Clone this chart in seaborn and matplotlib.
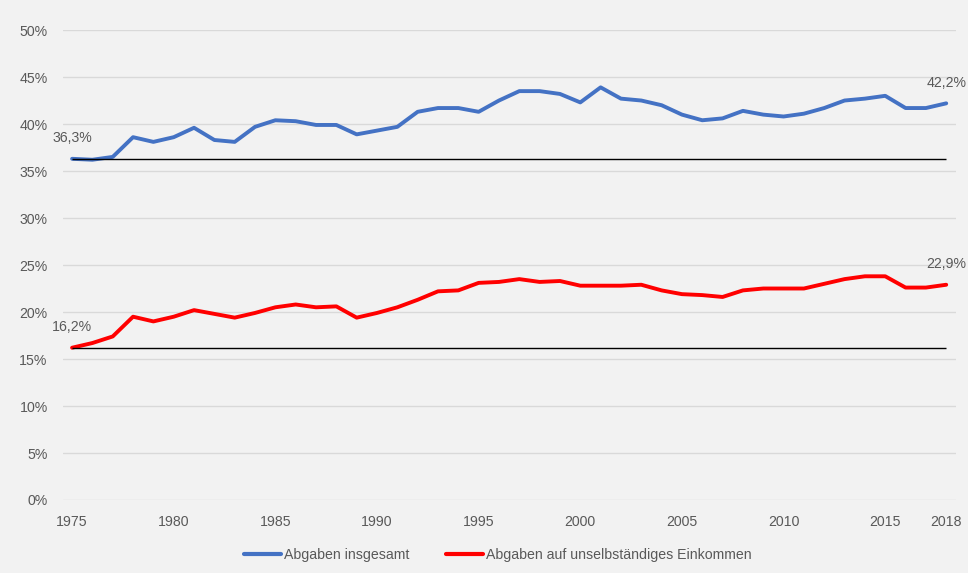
import matplotlib as mpl
from matplotlib import pyplot as plt
import pandas as pd
import seaborn as sns

years = list(range(1975, 2019))

# Abgabenquote in %
total = [
    36.3, 36.2, 36.5, 38.6, 38.1, 38.6, 39.6, 38.3, 38.1, 39.7,
    40.4, 40.3, 39.9, 39.9, 38.9, 39.3, 39.7, 41.3, 41.7, 41.7,
    41.3, 42.5, 43.5, 43.5, 43.2, 42.3, 43.9, 42.7, 42.5, 42.0,
    41.0, 40.4, 40.6, 41.4, 41.0, 40.8, 41.1, 41.7, 42.5, 42.7,
    43.0, 41.7, 41.7, 42.2,
]
wages = [
    16.2, 16.7, 17.4, 19.5, 19.0, 19.5, 20.2, 19.8, 19.4, 19.9,
    20.5, 20.8, 20.5, 20.6, 19.4, 19.9, 20.5, 21.3, 22.2, 22.3,
    23.1, 23.2, 23.5, 23.2, 23.3, 22.8, 22.8, 22.8, 22.9, 22.3,
    21.9, 21.8, 21.6, 22.3, 22.5, 22.5, 22.5, 23.0, 23.5, 23.8,
    23.8, 22.6, 22.6, 22.9,
]
series_names = ["Abgaben insgesamt", "Abgaben auf unselbständiges Einkommen"]
series_colors = ["#4472C4", "#FF0000"]
xtick_years = [1975, 1980, 1985, 1990, 1995, 2000, 2005, 2010, 2015, 2018]

df = pd.DataFrame({
    "Jahr": years * 2,
    "Wert": total + wages,
    "Reihe": [series_names[0]] * len(years) + [series_names[1]] * len(years),
})

sns.set_style("white")
plt.rcParams["font.family"] = ["Liberation Sans", "DejaVu Sans"]
bg = "#f2f2f2"
grey_text = "#595959"
fs = 10.2

fig = plt.figure(figsize=(9.68, 5.73), dpi=100, facecolor=bg)
ax = fig.add_axes([0.065, 0.1274, 0.923, 0.8202])
ax.set_facecolor(bg)

# reference lines at the 1975 level
for vals in (total, wages):
    ax.hlines(vals[0], years[0], years[-1], color="black", linewidth=1.0, zorder=3)

sns.lineplot(
    data=df,
    x="Jahr",
    y="Wert",
    hue="Reihe",
    hue_order=series_names,
    palette=series_colors,
    linewidth=2.8,
    ax=ax,
    legend=False,
    zorder=2,
)

for vals in (total, wages):
    for i in (0, -1):
        ax.annotate(
            f"{vals[i]:.1f}%".replace(".", ","),
            xy=(years[i], vals[i]),
            xytext=(0, 15),
            textcoords="offset points",
            ha="center",
            va="center",
            fontsize=fs,
            color=grey_text,
        )

ax.set_xlim(1974.55, 2018.5)
ax.set_ylim(0, 50)
ax.set_yticks(range(0, 51, 5))
ax.yaxis.set_major_formatter(mpl.ticker.FuncFormatter(lambda v, _: f"{v:.0f}%"))
ax.set_xticks(xtick_years)
ax.grid(axis="y", color="#d9d9d9", linewidth=1.0)
ax.set_axisbelow(True)
for spine in ax.spines.values():
    spine.set_visible(False)
ax.tick_params(axis="both", length=0, labelsize=fs, labelcolor=grey_text)
ax.tick_params(axis="x", pad=11)
ax.tick_params(axis="y", pad=11)
ax.set_xlabel("")
ax.set_ylabel("")

handles = [
    mpl.lines.Line2D([], [], color=c, linewidth=3) for c in series_colors
]
fig.legend(
    handles,
    series_names,
    loc="center",
    bbox_to_anchor=(0.514, 0.031),
    ncol=2,
    frameon=False,
    handlelength=2.6,
    handletextpad=0.2,
    columnspacing=2.6,
    fontsize=fs,
    labelcolor=grey_text,
)

fig.savefig("out.png", dpi=100, facecolor=bg)
